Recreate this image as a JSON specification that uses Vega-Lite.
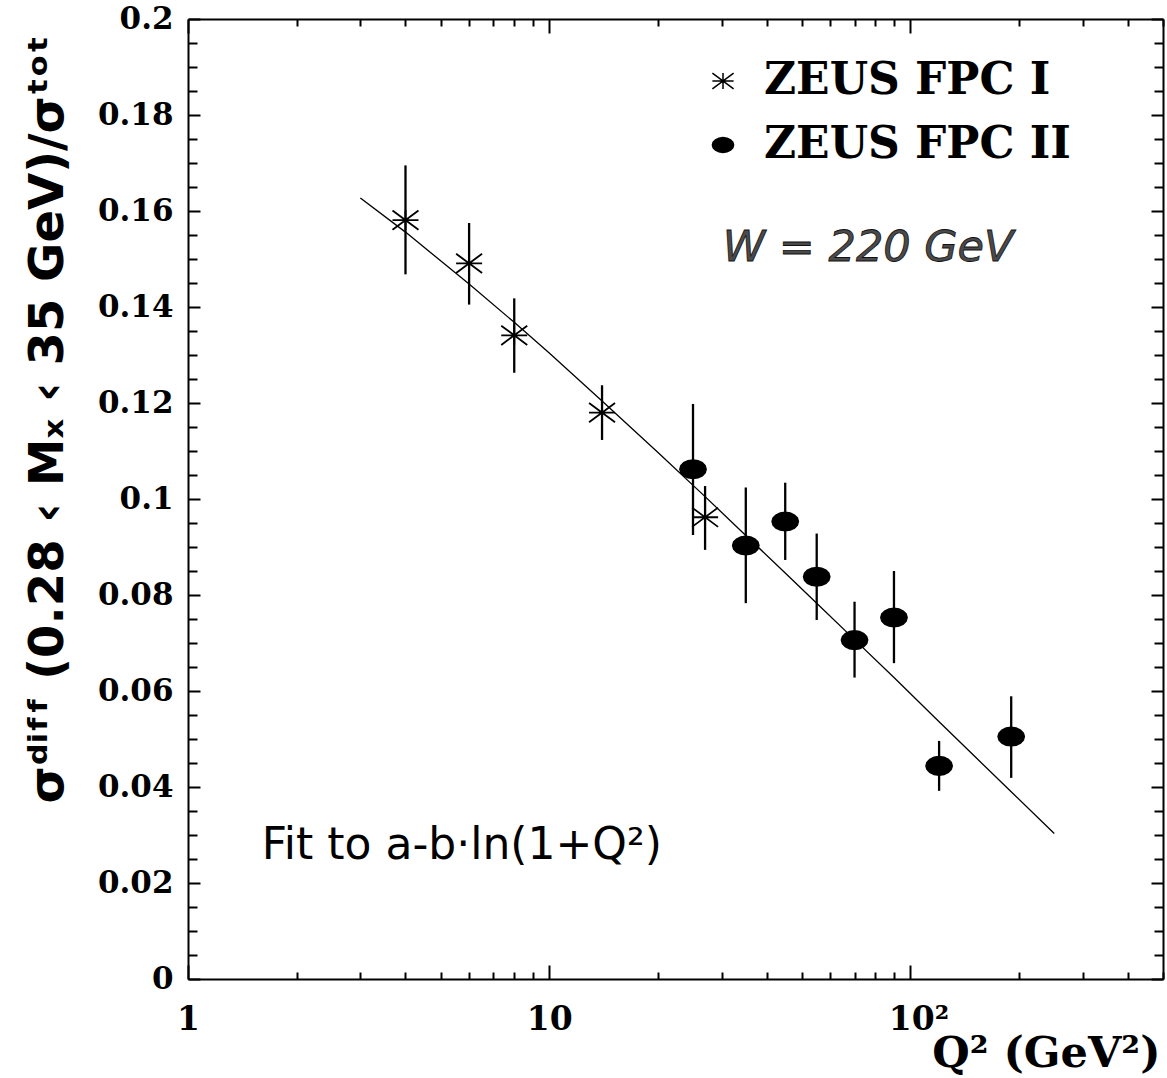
{
  "$schema": "https://vega.github.io/schema/vega-lite/v6.json",
  "width": 975,
  "height": 960,
  "autosize": "none",
  "padding": {"left": 188, "top": 19, "right": 4, "bottom": 99},
  "background": "white",
  "config": {
    "view": {"stroke": null},
    "axis": {
      "grid": false,
      "domainColor": "black",
      "domainWidth": 2,
      "tickColor": "black",
      "tickWidth": 2,
      "labelFlush": false,
      "labelOverlap": false,
      "labelBound": false
    }
  },
  "datasets": {
    "points": [
      {"series": "ZEUS FPC I", "q2": 4, "sigma": 0.1581, "lo": 0.1468, "hi": 0.1695},
      {"series": "ZEUS FPC I", "q2": 6, "sigma": 0.1491, "lo": 0.1405, "hi": 0.1575},
      {"series": "ZEUS FPC I", "q2": 8, "sigma": 0.1341, "lo": 0.1263, "hi": 0.1418},
      {"series": "ZEUS FPC I", "q2": 14, "sigma": 0.118, "lo": 0.1123, "hi": 0.1237},
      {"series": "ZEUS FPC I", "q2": 27, "sigma": 0.0962, "lo": 0.0894, "hi": 0.1027},
      {"series": "ZEUS FPC II", "q2": 25, "sigma": 0.1062, "lo": 0.0925, "hi": 0.1198},
      {"series": "ZEUS FPC II", "q2": 35, "sigma": 0.0903, "lo": 0.0783, "hi": 0.1024},
      {"series": "ZEUS FPC II", "q2": 45, "sigma": 0.0953, "lo": 0.0873, "hi": 0.1034},
      {"series": "ZEUS FPC II", "q2": 55, "sigma": 0.0838, "lo": 0.0748, "hi": 0.0928},
      {"series": "ZEUS FPC II", "q2": 70, "sigma": 0.0706, "lo": 0.0628, "hi": 0.0786},
      {"series": "ZEUS FPC II", "q2": 90, "sigma": 0.0753, "lo": 0.0658, "hi": 0.085},
      {"series": "ZEUS FPC II", "q2": 120, "sigma": 0.0444, "lo": 0.0392, "hi": 0.0496},
      {"series": "ZEUS FPC II", "q2": 190, "sigma": 0.0505, "lo": 0.0419, "hi": 0.0589}
    ],
    "fit": [
      {"q2": 3, "sigma": 0.1627},
      {"q2": 4, "sigma": 0.1556},
      {"q2": 6, "sigma": 0.1448},
      {"q2": 8, "sigma": 0.1368},
      {"q2": 10, "sigma": 0.1304},
      {"q2": 14, "sigma": 0.1204},
      {"q2": 20, "sigma": 0.1097},
      {"q2": 27, "sigma": 0.1005},
      {"q2": 35, "sigma": 0.0924},
      {"q2": 45, "sigma": 0.0846},
      {"q2": 55, "sigma": 0.0783},
      {"q2": 70, "sigma": 0.0707},
      {"q2": 90, "sigma": 0.0628},
      {"q2": 120, "sigma": 0.0536},
      {"q2": 150, "sigma": 0.0465},
      {"q2": 190, "sigma": 0.039},
      {"q2": 250, "sigma": 0.0303}
    ],
    "notes": [
      {"note": "W = 220 GeV"},
      {"note": "Fit to a-b·ln(1+Q²)"}
    ]
  },
  "layer": [
    {
      "data": {"name": "fit"},
      "mark": {"type": "line", "color": "black", "strokeWidth": 1.3},
      "encoding": {
        "x": {
          "field": "q2",
          "type": "quantitative",
          "scale": {"type": "log", "domain": [1, 500], "nice": false},
          "axis": {
            "orient": "bottom",
            "values": [1, 2, 3, 4, 5, 6, 7, 8, 9, 10, 20, 30, 40, 50, 60, 70, 80, 90, 100, 200, 300, 400, 500],
            "tickSize": {"condition": {"test": "datum.value == 1 || datum.value == 10 || datum.value == 100", "value": -14}, "value": -7},
            "labelExpr": "datum.value == 1 ? '1' : datum.value == 10 ? '10' : datum.value == 100 ? '10²' : ''",
            "labelFont": "DejaVu Serif",
            "labelFontWeight": "bold",
            "labelFontSize": 33,
            "labelColor": "black",
            "labelBaseline": "top",
            "labelPadding": 38,
            "labelOffset": {"condition": {"test": "datum.value == 100", "value": 8}, "value": 0},
            "title": "Q² (GeV²)",
            "titleFont": "DejaVu Serif",
            "titleFontWeight": "bold",
            "titleFontSize": 43,
            "titleColor": "black",
            "titleAnchor": "end",
            "titleAlign": "right",
            "titleBaseline": "alphabetic",
            "titleX": 972,
            "titleY": 87
          }
        },
        "y": {
          "field": "sigma",
          "type": "quantitative",
          "scale": {"domain": [0, 0.2], "nice": false, "zero": false},
          "axis": {
            "orient": "left",
            "values": [0, 0.005, 0.01, 0.015, 0.02, 0.025, 0.03, 0.035, 0.04, 0.045, 0.05, 0.055, 0.06, 0.065, 0.07, 0.075, 0.08, 0.085, 0.09, 0.095, 0.1, 0.105, 0.11, 0.115, 0.12, 0.125, 0.13, 0.135, 0.14, 0.145, 0.15, 0.155, 0.16, 0.165, 0.17, 0.175, 0.18, 0.185, 0.19, 0.195, 0.2],
            "tickSize": {"condition": {"test": "abs(datum.value * 50 - round(datum.value * 50)) < 1e-6", "value": -12}, "value": -9},
            "labelExpr": "abs(datum.value * 50 - round(datum.value * 50)) < 1e-6 ? format(datum.value, '.2~f') : ''",
            "labelFont": "DejaVu Serif",
            "labelFontWeight": "bold",
            "labelFontSize": 31,
            "labelColor": "black",
            "labelPadding": 27,
            "title": "σᵈⁱᶠᶠ (0.28 ‹ Mₓ ‹ 35 GeV)/σᵗᵒᵗ",
            "titleFont": "DejaVu Sans",
            "titleFontWeight": "bold",
            "titleFontSize": 48,
            "titleColor": "black",
            "titleAngle": 270,
            "titleAlign": "center",
            "titleBaseline": "alphabetic",
            "titleX": -126,
            "titleY": 400
          }
        }
      }
    },
    {
      "data": {"name": "points"},
      "mark": {"type": "rule", "color": "black", "strokeWidth": 2.3},
      "encoding": {
        "x": {
          "field": "q2",
          "type": "quantitative",
          "axis": {
            "orient": "top",
            "values": [1, 2, 3, 4, 5, 6, 7, 8, 9, 10, 20, 30, 40, 50, 60, 70, 80, 90, 100, 200, 300, 400, 500],
            "tickSize": {"condition": {"test": "datum.value == 1 || datum.value == 10 || datum.value == 100", "value": -14}, "value": -7},
            "labels": false,
            "title": null
          }
        },
        "y": {
          "field": "lo",
          "type": "quantitative",
          "axis": {
            "orient": "right",
            "values": [0, 0.005, 0.01, 0.015, 0.02, 0.025, 0.03, 0.035, 0.04, 0.045, 0.05, 0.055, 0.06, 0.065, 0.07, 0.075, 0.08, 0.085, 0.09, 0.095, 0.1, 0.105, 0.11, 0.115, 0.12, 0.125, 0.13, 0.135, 0.14, 0.145, 0.15, 0.155, 0.16, 0.165, 0.17, 0.175, 0.18, 0.185, 0.19, 0.195, 0.2],
            "tickSize": {"condition": {"test": "abs(datum.value * 50 - round(datum.value * 50)) < 1e-6", "value": -12}, "value": -9},
            "labels": false,
            "title": null
          }
        },
        "y2": {"field": "hi"}
      }
    },
    {
      "data": {"name": "points"},
      "mark": {"type": "point", "filled": true, "fill": "black", "stroke": "black", "strokeWidth": 1.8, "opacity": 1, "size": 676},
      "encoding": {
        "x": {"field": "q2", "type": "quantitative", "axis": null},
        "y": {"field": "sigma", "type": "quantitative", "axis": null},
        "shape": {
          "field": "series",
          "type": "nominal",
          "scale": {
            "domain": ["ZEUS FPC I", "ZEUS FPC II"],
            "range": [
              "M-1,0L1,0M-1,-0.74L1,0.74M-1,0.74L1,-0.74M0,-0.76L0,0.76",
              "M1,0L0.924,0.268L0.707,0.495L0.383,0.647L0,0.7L-0.383,0.647L-0.707,0.495L-0.924,0.268L-1,0L-0.924,-0.268L-0.707,-0.495L-0.383,-0.647L0,-0.7L0.383,-0.647L0.707,-0.495L0.924,-0.268Z"
            ]
          },
          "legend": {
            "orient": "none",
            "legendX": 513,
            "legendY": 40,
            "title": null,
            "padding": 0,
            "symbolSize": 450,
            "labelFont": "DejaVu Serif",
            "labelFontWeight": "bold",
            "labelFontSize": 44,
            "labelColor": "black",
            "labelOffset": 19,
            "labelLimit": 600,
            "rowPadding": 20,
            "encode": {
              "symbols": {
                "update": {
                  "fill": {"value": "black"},
                  "stroke": {"value": "black"},
                  "strokeWidth": {"value": 1.7},
                  "opacity": {"value": 1}
                }
              }
            }
          }
        }
      }
    },
    {
      "data": {"name": "notes"},
      "transform": [{"filter": "datum.note == 'W = 220 GeV'"}],
      "mark": {"type": "text", "font": "DejaVu Sans", "fontSize": 43, "fontStyle": "italic", "fill": "#4a4a4a", "stroke": "#111111", "strokeWidth": 0.8, "align": "left", "baseline": "middle"},
      "encoding": {
        "text": {"field": "note"},
        "x": {"datum": 30.2, "type": "quantitative", "axis": null},
        "y": {"datum": 0.1523, "type": "quantitative", "axis": null}
      }
    },
    {
      "data": {"name": "notes"},
      "transform": [{"filter": "datum.note != 'W = 220 GeV'"}],
      "mark": {"type": "text", "font": "DejaVu Sans", "fontSize": 44, "fill": "black", "align": "left", "baseline": "alphabetic"},
      "encoding": {
        "text": {"field": "note"},
        "x": {"datum": 1.6, "type": "quantitative", "axis": null},
        "y": {"datum": 0.025, "type": "quantitative", "axis": null}
      }
    }
  ],
  "resolve": {"axis": {"x": "independent", "y": "independent"}}
}
